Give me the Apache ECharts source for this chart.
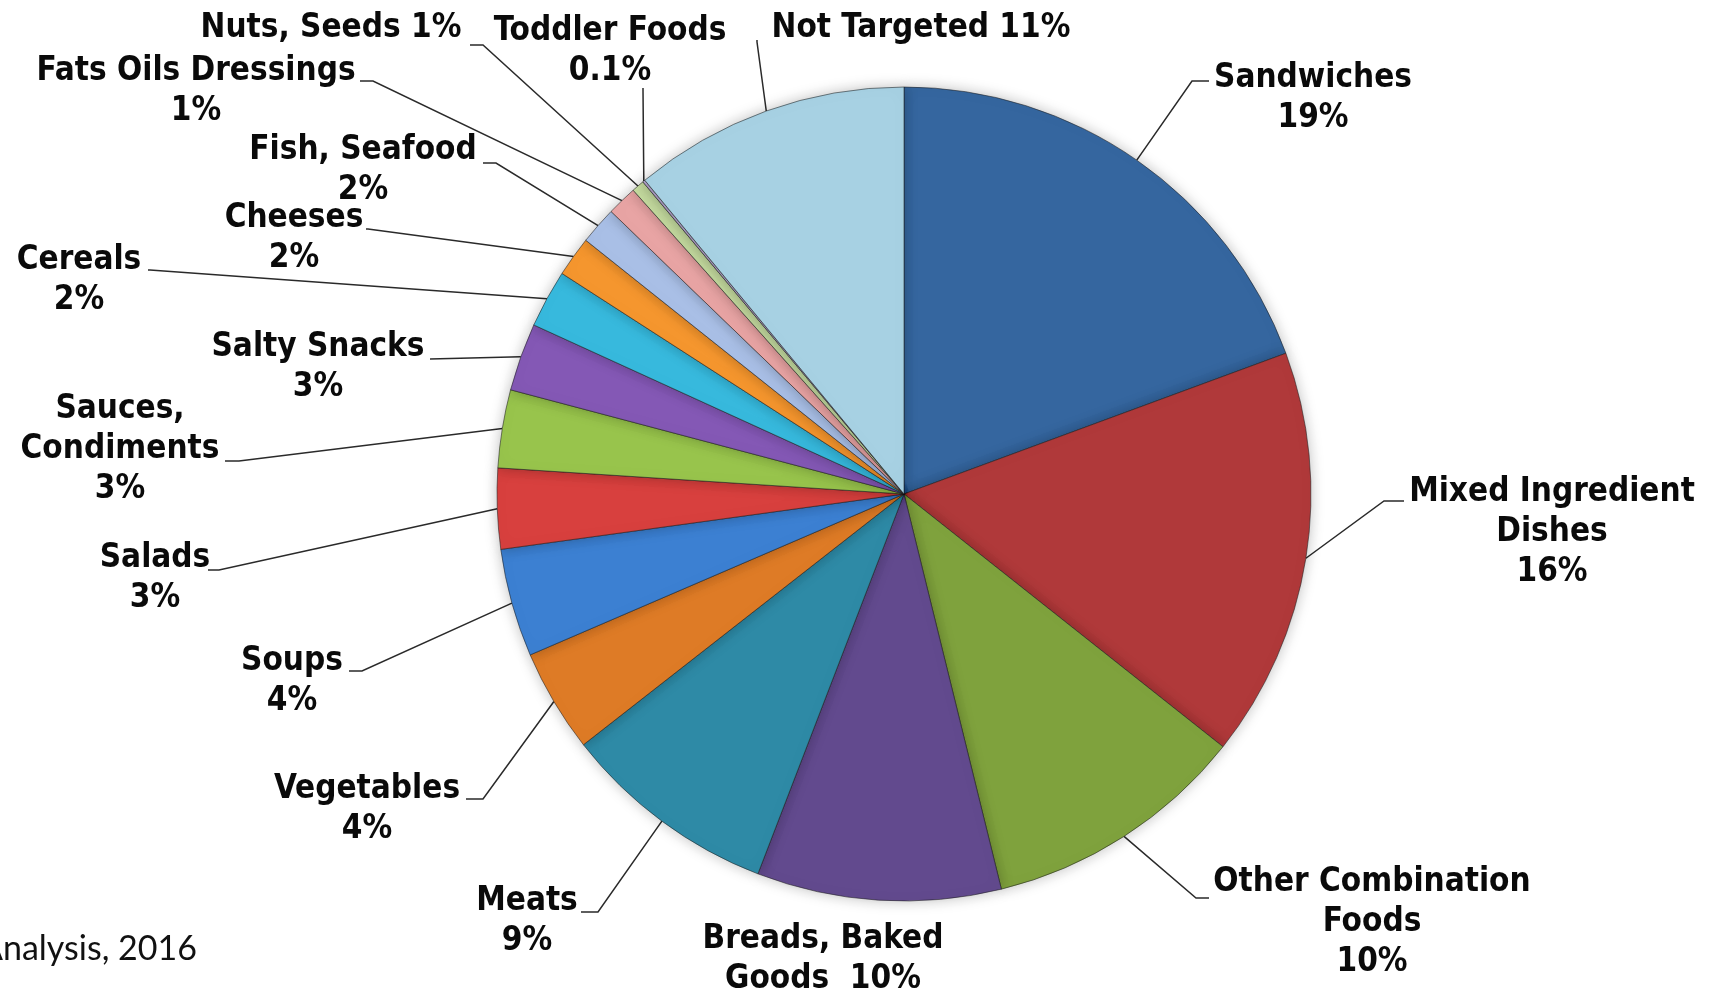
<!DOCTYPE html>
<html>
<head>
<meta charset="utf-8">
<script src="https://cdn.jsdelivr.net/npm/echarts@6/dist/echarts.min.js"></script>
<style>
html,body{margin:0;padding:0;background:#ffffff;}
#chart{width:1720px;height:990px;}
</style>
</head>
<body>
<div id="chart"></div>
<script>
// ---- data ----
const categories = ['Sandwiches','Mixed Ingredient Dishes','Other Combination Foods','Breads, Baked Goods','Meats','Vegetables','Soups','Salads','Sauces, Condiments','Salty Snacks','Cereals','Cheeses','Fish, Seafood','Fats Oils Dressings','Nuts, Seeds','Toddler Foods','Not Targeted'];
const shares = [19.4, 16.3, 10.5, 9.7, 8.6, 4.1, 4.3, 3.2, 3.1, 2.7, 2.3, 1.6, 1.5, 1.2, 0.5, 0.1, 11.0];
const labelTexts = ['Sandwiches\n19%','Mixed Ingredient\nDishes\n16%','Other Combination\nFoods\n10%','Breads, Baked\nGoods  10%','Meats\n9%','Vegetables\n4%','Soups\n4%','Salads\n3%','Sauces,\nCondiments\n3%','Salty Snacks\n3%','Cereals\n2%','Cheeses\n2%','Fish, Seafood\n2%','Fats Oils Dressings\n1%','Nuts, Seeds 1%','Toddler Foods\n0.1%','Not Targeted 11%'];
const sourceNote = 'Analysis, 2016';

// ---- styling / layout (not data) ----
const colors = ['#35669f','#b0393a','#7fa23d','#624a8e','#2e8aa6','#de7b26','#3c80d2','#d8403e','#98c44c','#8458b5','#37b9dd','#f5962e','#a9bfe6','#e8a4a4','#c5dba0','#b9a9d3','#a7d1e3'];
// [label centerX, label topY, bendX, bendY, endX, endY]
const labelPlacement = [
  [1313, 58, 1192, 81, 1209, 81],
  [1552, 472, 1384, 501, 1404, 501],
  [1372, 862, 1196, 898, 1209, 898],
  [823, 919, null],
  [527, 881, 598, 912, 581, 912],
  [367, 769, 483, 799, 466, 799],
  [292, 641, 362, 671, 349, 671],
  [155, 538, 219, 570, 208, 570],
  [120, 389, 239, 461, 225, 461],
  [318, 327, 430, 359, 430, 359],
  [79, 240, 150, 270, 148, 270],
  [294, 198, 368, 229, 366, 229],
  [363, 130, 496, 163, 483, 163],
  [196, 51, 373, 81, 360, 81],
  [331, 8, 483, 45, 470, 45],
  [610, 11, 643, 90, 643, 88],
  [921, 8, 757, 42, 757, 40]
];

const seriesData = categories.map((c, i) => {
  const item = { name: c, value: shares[i], itemStyle: { color: colors[i] } };
  if (labelPlacement[i][2] == null) item.labelLine = { show: false };
  return item;
});

const chart = echarts.init(document.getElementById('chart'), null, { renderer: 'canvas' });
chart.setOption({
  backgroundColor: '#ffffff',
  animation: false,
  graphic: [{
    type: 'text',
    left: -20,
    top: 932,
    style: { text: sourceNote, fontFamily: 'Lato, "Open Sans", sans-serif', fontSize: 34, fill: '#111' }
  }],
  series: [{
    type: 'pie',
    center: [904, 494],
    radius: 407,
    startAngle: 90,
    clockwise: true,
    avoidLabelOverlap: false,
    data: seriesData,
    itemStyle: {
      borderColor: 'rgba(30,30,30,0.55)',
      borderWidth: 1,
      shadowBlur: 14,
      shadowColor: 'rgba(0,0,0,0.25)'
    },
    label: {
      show: true,
      position: 'outside',
      formatter: (p) => labelTexts[p.dataIndex],
      fontFamily: '"DejaVu Sans Condensed", "DejaVu Sans", Verdana, sans-serif',
      fontWeight: 'bold',
      fontSize: 33,
      lineHeight: 40,
      color: '#0a0a0a',
      align: 'center'
    },
    labelLine: {
      show: true,
      length: 10,
      length2: 10,
      lineStyle: { color: '#2a2a2a', width: 1.5 }
    },
    labelLayout: function (p) {
      const L = labelPlacement[p.dataIndex];
      const res = { x: L[0], y: L[1], align: 'center', verticalAlign: 'top' };
      if (L[2] != null && p.labelLinePoints && p.labelLinePoints.length) {
        res.labelLinePoints = [p.labelLinePoints[0], [L[2], L[3]], [L[4], L[5]]];
      }
      return res;
    },
    emphasis: { disabled: true }
  }]
});
</script>
</body>
</html>
